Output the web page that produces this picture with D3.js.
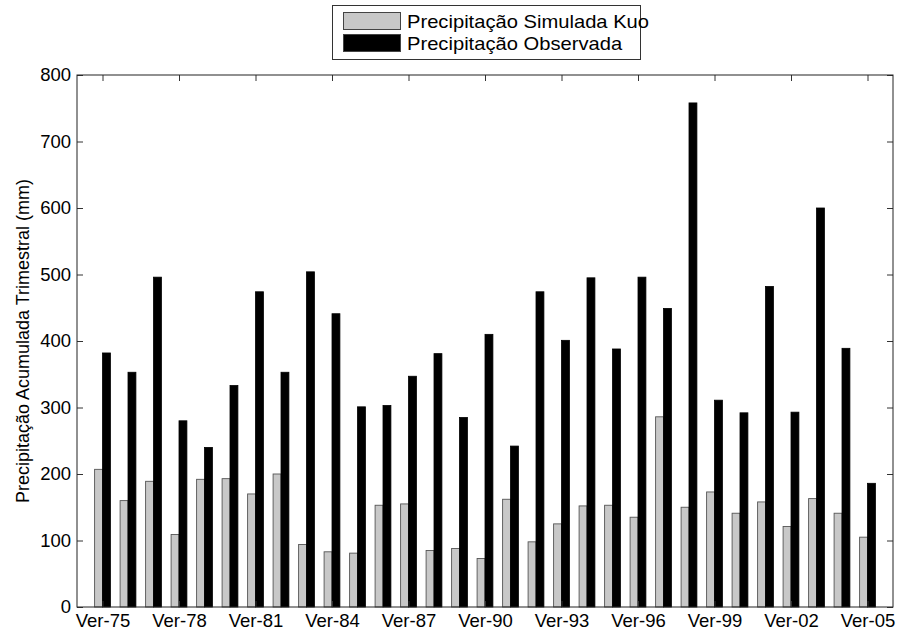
<!DOCTYPE html>
<html>
<head>
<meta charset="utf-8">
<script src="https://cdn.jsdelivr.net/npm/d3@7"></script>
<style>
  body { margin: 0; background: #fff; }
  svg { font-family: "Liberation Sans", Arial, sans-serif; }
  .tick text { font-size: 18px; fill: #000; }
</style>
</head>
<body>
<div id="chart"></div>
<script>
// anos (Ver-75 .. Ver-05) and the two precipitation series
const years = ["75","76","77","78","79","80","81","82","83","84","85","86","87","88","89","90",
               "91","92","93","94","95","96","97","98","99","00","01","02","03","04","05"]
const simulada = [207,160,189,109,192,193,170,200,94,83,81,153,155,85,88,73,
                  162,98,125,152,153,135,286,150,173,141,158,121,163,141,105]
const observada = [382,353,496,280,240,333,474,353,504,441,301,303,347,381,285,410,
                   242,474,401,495,388,496,449,758,311,292,482,293,600,389,186]
const yTicks = [0,100,200,300,400,500,600,700,800]
const seriesNames = ["Precipitação Simulada Kuo", "Precipitação Observada"]
const seriesColors = ["#c8c8c8", "#000000"]

const width = 900
const height = 634
const plotL = 77, plotR = 893, plotT = 75, plotB = 607

const svg = d3.select("#chart").append("svg").attr("width", width).attr("height", height)

const x = d3.scaleLinear().domain([0, years.length + 1]).range([plotL, plotR])
const y = d3.scaleLinear().domain([0, 800]).range([plotB, plotT])
const barW = 0.31

const xTickIdx = d3.range(1, years.length + 1, 3)

// bars
const g = svg.append("g")
g.selectAll(".sim").data(simulada).enter().append("rect").attr("class", "sim")
    .attr("x", (d, i) => x(i + 1 - barW)).attr("y", d => y(d))
    .attr("width", x(barW) - x(0)).attr("height", d => y(0) - y(d))
    .attr("fill", seriesColors[0]).attr("stroke", "#555").attr("stroke-width", 0.9)
g.selectAll(".obs").data(observada).enter().append("rect").attr("class", "obs")
    .attr("x", (d, i) => x(i + 1)).attr("y", d => y(d))
    .attr("width", x(barW) - x(0)).attr("height", d => y(0) - y(d))
    .attr("fill", seriesColors[1]).attr("stroke", "#000").attr("stroke-width", 0.8)

// axes (ticks pointing inward, like matlab)
const xAxis = d3.axisBottom(x).tickValues(xTickIdx).tickFormat(i => "Ver-" + years[i - 1]).tickSizeInner(-6).tickSizeOuter(0)
const gx = svg.append("g").attr("transform", `translate(0,${plotB})`).call(xAxis)
gx.selectAll(".tick text").attr("dy", "0.71em").attr("y", 7).style("font-size", "18.5px")

svg.append("g").attr("transform", `translate(0,${plotT})`)
    .call(d3.axisTop(x).tickValues(xTickIdx).tickFormat("").tickSizeInner(-6).tickSizeOuter(0))

svg.append("g").attr("transform", `translate(${plotL},0)`)
    .call(d3.axisLeft(y).tickValues(yTicks).tickSizeInner(-6).tickSizeOuter(0).tickPadding(6))
    .selectAll(".tick text").attr("x", -6).style("font-size", "18.5px")
svg.append("g").attr("transform", `translate(${plotR},0)`)
    .call(d3.axisRight(y).tickValues(yTicks).tickFormat("").tickSizeInner(-6).tickSizeOuter(0))

svg.selectAll(".domain").remove()
svg.selectAll(".tick line").attr("stroke", "#333")

// plot frame
svg.append("rect").attr("x", plotL).attr("y", plotT).attr("width", plotR - plotL).attr("height", plotB - plotT)
    .attr("fill", "none").attr("stroke", "#222").attr("stroke-width", 1)

// y label
svg.append("text").attr("transform", "rotate(-90)").attr("x", -(plotT + plotB) / 2).attr("y", 29)
    .attr("text-anchor", "middle").style("font-size", "18px").text("Precipitação Acumulada Trimestral (mm)")

// legend
const lg = svg.append("g")
lg.append("rect").attr("x", 332.5).attr("y", 5.5).attr("width", 308).attr("height", 54)
    .attr("fill", "#fff").attr("stroke", "#333")
seriesNames.forEach((name, i) => {
    lg.append("rect").attr("x", 343.5).attr("y", 12.5 + i * 22).attr("width", 57).attr("height", 17)
        .attr("fill", seriesColors[i]).attr("stroke", "#444")
    lg.append("text").attr("transform", `translate(407,${27.5 + i * 22}) scale(1.12,1)`)
        .style("font-size", "18px").text(name)
})
</script>
</body>
</html>
